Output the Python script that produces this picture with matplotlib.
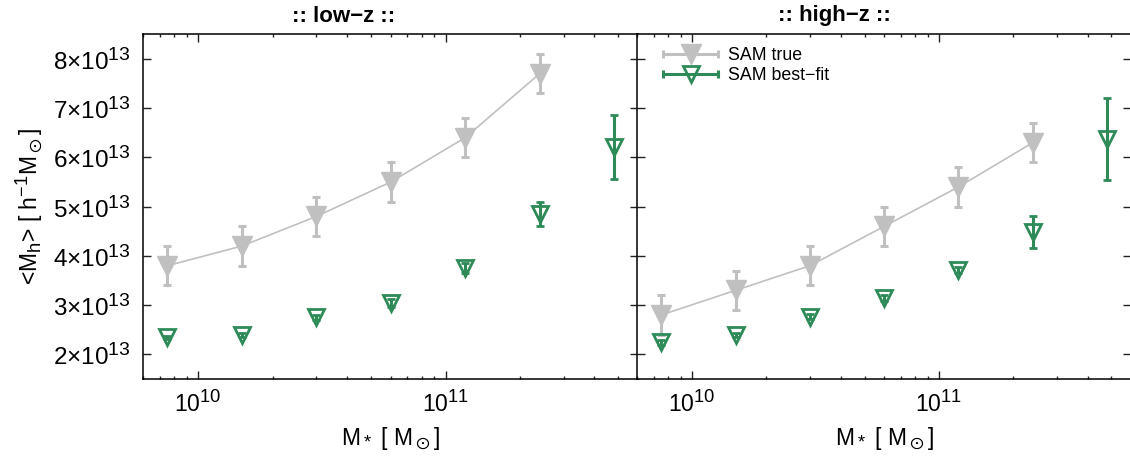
import numpy as np
import matplotlib
matplotlib.use("Agg")
import matplotlib.pyplot as plt
import matplotlib._mathtext as _mt
from matplotlib.lines import Line2D
from matplotlib.legend_handler import HandlerBase
from matplotlib.ticker import FixedLocator, FuncFormatter, LogLocator

_mt.SHRINK_FACTOR = 0.8

plt.rcParams['font.family'] = ['Liberation Sans', 'DejaVu Sans']
plt.rcParams['mathtext.fontset'] = 'custom'
plt.rcParams['mathtext.rm'] = 'Liberation Sans'
plt.rcParams['mathtext.it'] = 'Liberation Sans:italic'
plt.rcParams['mathtext.bf'] = 'Liberation Sans:bold'
plt.rcParams['mathtext.fallback'] = 'stixsans'

# ---------------- data ----------------
mstar_true = [7.5e9, 1.5e10, 3e10, 6e10, 1.2e11, 2.4e11]
mstar_fit = [7.5e9, 1.5e10, 3e10, 6e10, 1.2e11, 2.4e11, 4.8e11]

lowz_true = [3.8, 4.2, 4.8, 5.5, 6.4, 7.7]          # x 1e13
lowz_true_err = [0.4, 0.4, 0.4, 0.4, 0.4, 0.4]
lowz_fit = [2.35, 2.40, 2.75, 3.05, 3.75, 4.85, 6.22]
lowz_fit_err = [0.03, 0.04, 0.05, 0.08, 0.10, 0.24, 0.65]

highz_true = [2.8, 3.3, 3.8, 4.6, 5.4, 6.3]
highz_true_err = [0.4, 0.4, 0.4, 0.4, 0.4, 0.4]
highz_fit = [2.25, 2.40, 2.76, 3.14, 3.72, 4.49, 6.38]
highz_fit_err = [0.05, 0.04, 0.05, 0.06, 0.06, 0.33, 0.83]

panel_titles = [':: low\u2212z ::', ':: high\u2212z ::']
legend_labels = ['SAM true', 'SAM best\u2212fit']
ytick_vals = [2, 3, 4, 5, 6, 7, 8]

GRAY = '#c0c0c0'
GREEN = '#2e8b57'
SCALE = 1e13

fig = plt.figure(figsize=(11.3, 4.65), dpi=100)
W, H = 1130.0, 465.0
ax_bottom = (H - 379.0) / H
ax_height = (379.0 - 34.3) / H
axL = fig.add_axes([143.3 / W, ax_bottom, (638.0 - 143.3) / W, ax_height])
axR = fig.add_axes([637.3 / W, ax_bottom, (1131.0 - 637.3) / W, ax_height])

datasets = [
    (axL, lowz_true, lowz_true_err, lowz_fit, lowz_fit_err),
    (axR, highz_true, highz_true_err, highz_fit, highz_fit_err),
]

for ax, tv, te, fv, fe in datasets:
    ax.errorbar(mstar_true, np.array(tv) * SCALE, yerr=np.array(te) * SCALE,
                color=GRAY, ecolor=GRAY, lw=1.2, elinewidth=2.2, capsize=2.6,
                capthick=2.2, marker='v', ms=14.5, mfc=GRAY, mec=GRAY, zorder=3)
    ax.errorbar(mstar_fit, np.array(fv) * SCALE, yerr=np.array(fe) * SCALE,
                color=GREEN, ecolor=GREEN, ls='none', elinewidth=2.2, capsize=2.6,
                capthick=2.2, marker='v', ms=11, mfc='none', mec=GREEN, mew=2.0,
                zorder=4)
    ax.set_xscale('log')
    ax.set_xlim(6e9, 6e11)
    ax.set_ylim(1.5e13, 8.5e13)
    ax.yaxis.set_major_locator(FixedLocator([v * SCALE for v in ytick_vals]))
    ax.xaxis.set_major_locator(LogLocator(base=10, numticks=10))
    ax.xaxis.set_minor_locator(LogLocator(base=10, subs=np.arange(2, 10), numticks=10))
    ax.tick_params(which='both', direction='in', top=True, right=True,
                   labelsize=16.5, width=1.0, color='#222222')
    ax.tick_params(axis='y', labelsize=17.5)
    ax.tick_params(which='major', length=5.5)
    ax.tick_params(which='minor', length=2.5)
    ax.tick_params(axis='x', which='major', pad=8)
    ax.tick_params(axis='y', which='major', pad=9)
    for s in ax.spines.values():
        s.set_linewidth(1.1)
    ax.set_xlabel(r'M$_*$ [ M$_\odot$]', fontsize=16.5, labelpad=6)

axL.yaxis.set_major_formatter(FuncFormatter(lambda v, p: r'$%d{\times}10^{13}$' % round(v / SCALE)))
axR.tick_params(axis='y', labelleft=False)
axL.set_ylabel(r'<M$_\mathrm{h}$> [ h$^{-1}$M$_\odot$]', fontsize=16.5, labelpad=6)

fig.text(344 / W, 1 - 16 / H, panel_titles[0], ha='center', va='center',
         fontsize=16, fontweight='bold')
fig.text(834 / W, 1 - 16 / H, panel_titles[1], ha='center', va='center',
         fontsize=16, fontweight='bold')


class HErr(HandlerBase):
    def create_artists(self, legend, h, xdescent, ydescent, width, height, fontsize, trans):
        y = (height - ydescent) / 2.0
        x0, x1 = -xdescent, width - xdescent
        c = h.get_color()
        bar = Line2D([x0, x1], [y, y], color=c, lw=2.2, transform=trans)
        caps = Line2D([x0, x1], [y, y], ls='none', marker='|', ms=6, mew=2.2,
                      color=c, transform=trans)
        mk = Line2D([(x0 + x1) / 2.0], [y], ls='none', marker='v',
                    ms=h.get_markersize(), mfc=h.get_markerfacecolor(),
                    mec=h.get_markeredgecolor(), mew=h.get_markeredgewidth(),
                    transform=trans)
        return [bar, caps, mk]


h_true = Line2D([], [], color=GRAY, marker='v', ms=14.5, mfc=GRAY, mec=GRAY)
h_fit = Line2D([], [], color=GREEN, marker='v', ms=11, mfc='none', mec=GREEN, mew=2.0)
axR.legend([h_true, h_fit], legend_labels, handler_map={Line2D: HErr()},
           loc='upper left', bbox_to_anchor=(26 / 493.4, 0.962), frameon=False,
           borderpad=0, borderaxespad=0, fontsize=12.8, handlelength=3.1,
           handletextpad=0.55, labelspacing=0.15)

fig.savefig('out.png', dpi=100)
